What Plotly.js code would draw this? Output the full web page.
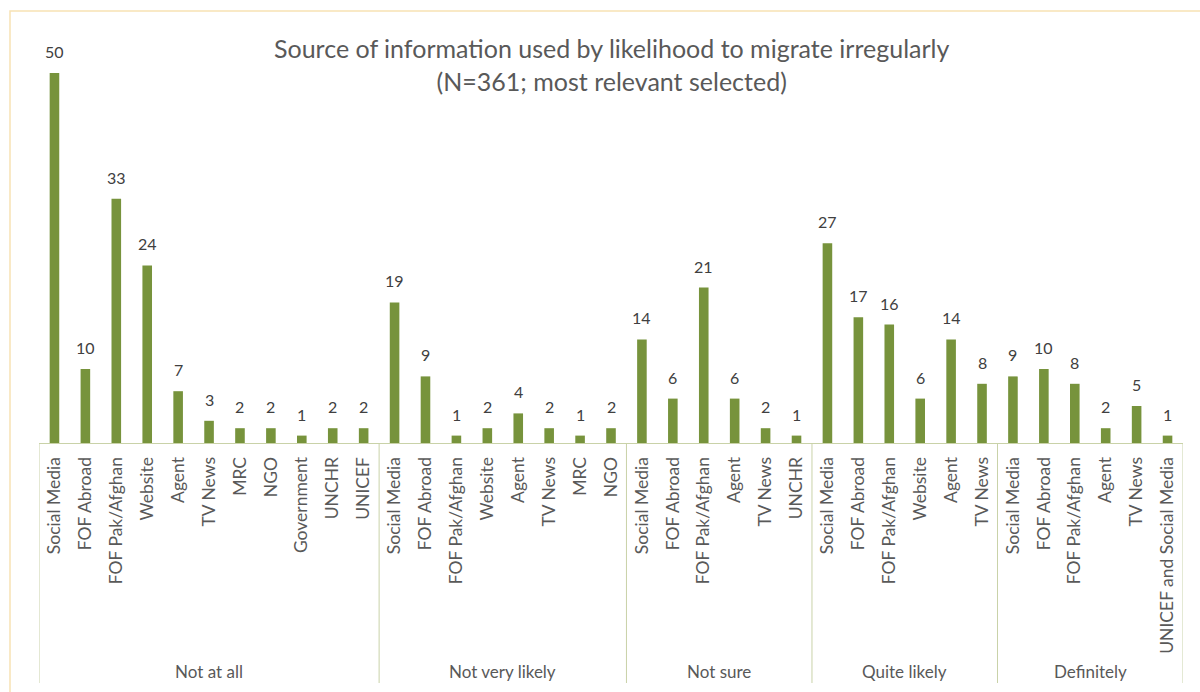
<!DOCTYPE html>
<html>
<head>
<meta charset="utf-8">
<script src="https://cdn.plot.ly/plotly-3.0.1.min.js"></script>
<style>body{margin:0;background:#fff}#chart{width:1200px;height:692px}</style>
</head>
<body>
<div id="chart"></div>
<script>
// Groups (likelihood to migrate irregularly)
const groups = ["Not at all", "Not very likely", "Not sure", "Quite likely", "Definitely"];
// Sources within each group
const notAtAllSources = ["Social Media","FOF Abroad","FOF Pak/Afghan","Website","Agent","TV News","MRC","NGO","Government","UNCHR","UNICEF"];
const notAtAllValues  = [50,10,33,24,7,3,2,2,1,2,2];
const notVeryLikelySources = ["Social Media","FOF Abroad","FOF Pak/Afghan","Website","Agent","TV News","MRC","NGO"];
const notVeryLikelyValues  = [19,9,1,2,4,2,1,2];
const notSureSources = ["Social Media","FOF Abroad","FOF Pak/Afghan","Agent","TV News","UNCHR"];
const notSureValues  = [14,6,21,6,2,1];
const quiteLikelySources = ["Social Media","FOF Abroad","FOF Pak/Afghan","Website","Agent","TV News"];
const quiteLikelyValues  = [27,17,16,6,14,8];
const definitelySources = ["Social Media","FOF Abroad","FOF Pak/Afghan","Agent","TV News","UNICEF and Social Media"];
const definitelyValues  = [9,10,8,2,5,1];

const groupSources = [notAtAllSources, notVeryLikelySources, notSureSources, quiteLikelySources, definitelySources];
const groupValues  = [notAtAllValues, notVeryLikelyValues, notSureValues, quiteLikelyValues, definitelyValues];

const xs = [], ys = [], labels = [];
const dividers = [-0.5];
const groupCenters = [];
let idx = 0;
groupSources.forEach((src, g) => {
  const start = idx;
  src.forEach((s, i) => { xs.push(idx); ys.push(groupValues[g][i]); labels.push(s); idx++; });
  dividers.push(idx - 0.5);
  groupCenters.push((start + idx - 1) / 2);
});

const font = "Lato, 'Open Sans', sans-serif";
const plotTop = 36, plotBottom = 443, plotH = plotBottom - plotTop;
const divBottomY = -(683 - plotBottom) / plotH;
const groupLabelY = -(671 - plotBottom) / plotH;

const shapes = dividers.map(d => ({
  type: "line", xref: "x", yref: "paper", x0: d, x1: d, y0: 0, y1: divBottomY,
  line: {color: "#C9D2A8", width: 1}
}));
shapes.push({
  type: "rect", xref: "paper", yref: "paper",
  x0: (10 - 39) / 1144, x1: 1.2, y0: -1, y1: (plotBottom - 11) / plotH,
  line: {color: "#F8E2B4", width: 1.5}, fillcolor: "rgba(0,0,0,0)", layer: "below"
});

const annotations = groups.map((g, i) => ({
  text: g, xref: "x", yref: "paper", x: groupCenters[i], y: groupLabelY,
  showarrow: false, font: {family: font, size: 17, color: "#595959"}, yanchor: "middle"
}));
annotations.push({
  text: "Source of information used by likelihood to migrate irregularly<br>(N=361; most relevant selected)",
  xref: "paper", yref: "paper", x: 0.5, y: (plotBottom - 64) / plotH, yanchor: "middle",
  showarrow: false, font: {family: font, size: 25, color: "#595959"}
});
// data labels above each bar
xs.forEach((x, i) => annotations.push({
  text: String(ys[i]), xref: "x", yref: "y", x: x, y: ys[i], yanchor: "bottom", yshift: 10,
  showarrow: false, font: {family: font, size: 16, color: "#404040"}
}));

const trace = {
  type: "bar", x: xs, y: ys, cliponaxis: false,
  marker: {color: "#77933C"}, hoverinfo: "skip"
};

const layout = {
  width: 1200, height: 692,
  margin: {l: 39, r: 17, t: plotTop, b: 692 - plotBottom},
  paper_bgcolor: "#fff", plot_bgcolor: "#fff",
  bargap: 0.69, showlegend: false,
  xaxis: {
    range: [-0.5, xs.length - 0.5], tickmode: "array", tickvals: xs, ticktext: labels,
    tickangle: -90, tickfont: {family: font, size: 17.5, color: "#595959"},
    showline: true, linecolor: "#C9D2A8", linewidth: 1, showgrid: false, zeroline: false,
    ticks: "", ticklabelstandoff: 6, fixedrange: true
  },
  yaxis: {
    range: [0, 55], visible: false, showgrid: false, zeroline: false, fixedrange: true
  },
  shapes: shapes, annotations: annotations
};

Plotly.newPlot("chart", [trace], layout, {displayModeBar: false, staticPlot: true});
</script>
</body>
</html>
